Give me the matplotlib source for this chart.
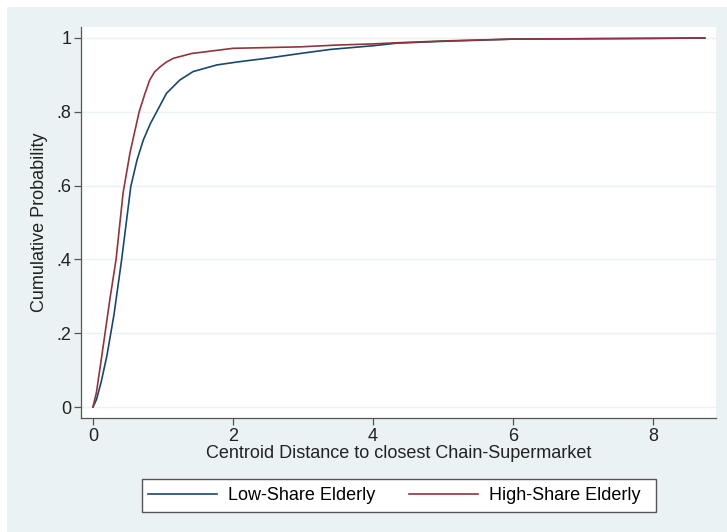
import matplotlib
matplotlib.use("Agg")
import matplotlib.pyplot as plt
from matplotlib.patches import Rectangle

# CDF of centroid distance (km) to closest chain supermarket
low_x = [0, 0.05, 0.12, 0.2, 0.3, 0.41, 0.54, 0.63, 0.72, 0.82, 0.91, 1.05, 1.24, 1.43,
         1.77, 2.1, 2.48, 2.96, 3.39, 4.0, 4.34, 5.0, 6.0, 7.0, 8.0, 8.74]
low_y = [0, 0.02, 0.07, 0.14, 0.25, 0.40, 0.597, 0.67, 0.724, 0.768, 0.80, 0.85, 0.886,
         0.909, 0.927, 0.936, 0.945, 0.958, 0.969, 0.979, 0.986, 0.991, 0.997, 0.998,
         0.999, 1.0]
high_x = [0, 0.05, 0.15, 0.24, 0.33, 0.43, 0.53, 0.66, 0.74, 0.81, 0.88, 0.96, 1.05, 1.15,
          1.41, 2.0, 2.96, 3.5, 4.0, 4.34, 5.0, 6.0, 7.0, 8.0, 8.74]
high_y = [0, 0.04, 0.17, 0.29, 0.40, 0.58, 0.69, 0.80, 0.848, 0.886, 0.908, 0.922, 0.935,
          0.945, 0.958, 0.972, 0.976, 0.981, 0.984, 0.987, 0.992, 0.997, 0.998, 0.999, 1.0]
series = ["Low-Share Elderly", "High-Share Elderly"]
xticks = [0, 2, 4, 6, 8]
yticks = [0, 0.2, 0.4, 0.6, 0.8, 1]
ylabels = ["0", ".2", ".4", ".6", ".8", "1"]

NAVY, MAROON = "#1A476F", "#90353B"
BG = "#EAF2F3"
TXT = "#222222"
FS = 13
plt.rcParams["font.family"] = ["Liberation Sans", "DejaVu Sans"]

W, H = 727, 532
fig = plt.figure(figsize=(W / 100, H / 100), dpi=100, facecolor=BG)
# thin white margin on the left and top, as in the screenshot
fig.patches.append(Rectangle((0, 0), 7 / W, 1, transform=fig.transFigure,
                             facecolor="white", edgecolor="none"))
fig.patches.append(Rectangle((0, 1 - 7 / H), 1, 7 / H, transform=fig.transFigure,
                             facecolor="white", edgecolor="none"))
# legend box drawn by hand so it spans the same width as the original
fig.patches.append(Rectangle((142 / W, 1 - 512 / H), (656 - 142) / W, 33 / H,
                             transform=fig.transFigure, facecolor="white",
                             edgecolor="#555555", lw=1.0))

ax = fig.add_axes([81 / W, 1 - 418 / H, (716 - 81) / W, (418 - 27) / H])
ax.set_facecolor("white")
ax.plot(low_x, low_y, color=NAVY, lw=1.2, label=series[0], zorder=3)
ax.plot(high_x, high_y, color=MAROON, lw=1.2, label=series[1], zorder=3)

ax.set_xlim(-0.171, 8.9)
ax.set_ylim(-0.0298, 1.0298)
ax.set_xticks(xticks)
ax.set_yticks(yticks)
ax.set_yticklabels(ylabels)
for y in yticks:
    ax.axhline(y, color=BG, lw=1.0, zorder=1)
for s in ["top", "right"]:
    ax.spines[s].set_visible(False)
for s in ["left", "bottom"]:
    ax.spines[s].set_color("#555555")
    ax.spines[s].set_linewidth(0.9)
ax.tick_params(direction="out", length=5, width=0.9, color="#555555",
               labelsize=FS, labelcolor=TXT, pad=2)
ax.set_xlabel("Centroid Distance to closest Chain-Supermarket", fontsize=FS,
              color=TXT, labelpad=0)
ax.set_ylabel("Cumulative Probability", fontsize=FS, color=TXT, labelpad=6)

fig.legend(loc="center left", ncol=2,
           bbox_to_anchor=(142 / W, 1 - 495.5 / H),
           borderaxespad=0, fontsize=FS, handlelength=3.8, handletextpad=0.6,
           columnspacing=1.9, borderpad=0.35, frameon=False)

fig.savefig("out.png", dpi=100, facecolor=fig.get_facecolor())
